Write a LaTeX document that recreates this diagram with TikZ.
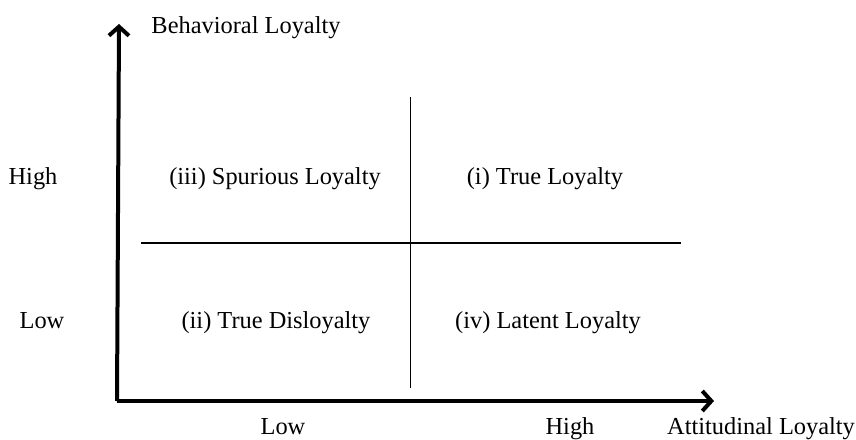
\documentclass[tikz,border=0pt]{standalone}
\usepackage{fontspec}
\setmainfont{Liberation Serif}
\usetikzlibrary{arrows.meta}
\begin{document}
\begin{tikzpicture}[x=1pt,y=-1pt,
  lbl/.style={font=\fontsize{24.4}{28}\selectfont, inner sep=0pt, anchor=base},
  axis/.style={line width=4pt, -{Straight Barb[length=9pt,width=20pt,line width=4pt]}},
  divider/.style={line width=1.3pt}]
\useasboundingbox (0,0) rectangle (856,439);
\coordinate (O) at (119,401);
\coordinate (Ytop) at (119,24);
\coordinate (Xend) at (714,401);
\draw[axis] ([xshift=-2pt]O) -- (Ytop);
\draw[axis] ([xshift=-2pt]O) -- (Xend);
\coordinate (vt) at (410.5,97);
\coordinate (vb) at (410.5,388);
\coordinate (hl) at (141,243);
\coordinate (hr) at (681,243);
\draw[divider] (vt) -- (vb);
\draw[divider] (hl) -- (hr);
\node[lbl] (ylab) at (246,33) {Behavioral Loyalty};
\node[lbl] (yhigh) at (33,184) {High};
\node[lbl] (ylow) at (42,328) {Low};
\node[lbl] (q3) at (275,184) {(iii) Spurious Loyalty};
\node[lbl] (q1) at (545,184) {(i) True Loyalty};
\node[lbl] (q2) at (276,328) {(ii) True Disloyalty};
\node[lbl] (q4) at (548,328) {(iv) Latent Loyalty};
\node[lbl] (xlow) at (283,434) {Low};
\node[lbl] (xhigh) at (570,434) {High};
\node[lbl] (xlab) at (761,434) {Attitudinal Loyalty};
\end{tikzpicture}
\end{document}
